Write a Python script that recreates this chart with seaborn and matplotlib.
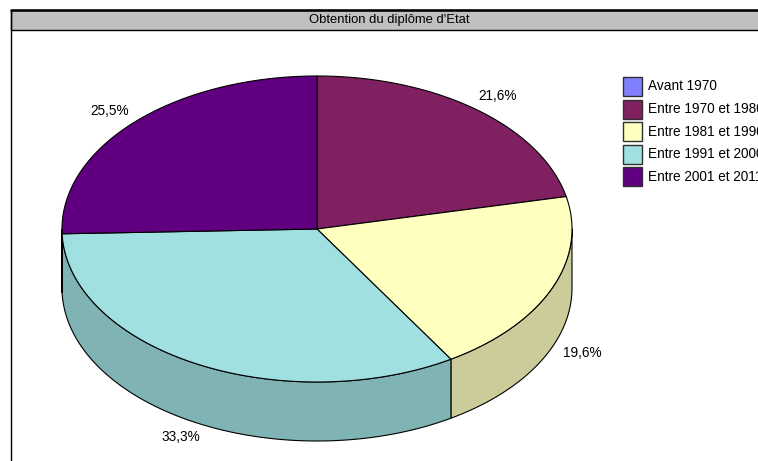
import numpy as np
import matplotlib
matplotlib.use("Agg")
import matplotlib.pyplot as plt
import seaborn as sns
from matplotlib.patches import Polygon, Rectangle
from matplotlib.colors import to_rgb

# --- data ---
title = "Obtention du diplôme d'Etat"
categories = ["Avant 1970", "Entre 1970 et 1980", "Entre 1981 et 1990",
              "Entre 1991 et 2000", "Entre 2001 et 2011"]
shares = [0.0, 21.6, 19.6, 33.3, 25.5]
colors = ["#8080FF", "#802060", "#FFFFC0", "#A0E0E0", "#600080"]

sns.set_theme(style="white")
plt.rcParams['font.family'] = ['Liberation Sans', 'DejaVu Sans']

W, H = 758, 461
fig = plt.figure(figsize=(W / 100, H / 100), dpi=100)
ax = fig.add_axes([0, 0, 1, 1])
ax.set_xlim(0, W)
ax.set_ylim(H, 0)
ax.axis('off')

# frame + title bar
ax.plot([10.5, 10.5], [10, H + 5], color='black', lw=1.0)
ax.add_patch(Rectangle((10.5, 10), 780, 20, facecolor='#C0C0C0',
                       edgecolor='black', lw=1.0))
ax.plot([10.5, 790], [10, 10], color='black', lw=1.8)
ax.text(389, 20, title, ha='center', va='center', fontsize=9.4, color='black')

# pie geometry
cx, cy, rx, ry, depth = 317, 229, 255, 153, 59


def arc(t1, t2, n=200):
    t = np.radians(np.linspace(t1, t2, n))
    return np.column_stack([cx + rx * np.cos(t), cy - ry * np.sin(t)])


total = sum(shares)
bounds = 90 - 360 * np.concatenate([[0], np.cumsum(shares)]) / total

# side walls (front half only)
for i, c in enumerate(colors):
    a1, a2 = bounds[i], bounds[i + 1]
    lo, hi = max(a2, -180), min(a1, 0)
    if hi <= lo:
        continue
    top = arc(hi, lo)
    bot = top[::-1] + [0, depth]
    side = tuple(np.array(to_rgb(c)) * 0.8)
    ax.add_patch(Polygon(np.vstack([top, bot]), closed=True, facecolor=side,
                         edgecolor='black', lw=0.8, joinstyle='round'))

# top wedges
for i, c in enumerate(colors):
    a1, a2 = bounds[i], bounds[i + 1]
    if a1 - a2 <= 0:
        continue
    pts = np.vstack([[cx, cy], arc(a1, a2)])
    ax.add_patch(Polygon(pts, closed=True, facecolor=c, edgecolor='black',
                         lw=0.8, joinstyle='round'))

# percentage labels
for i, v in enumerate(shares):
    if v <= 0:
        continue
    mid = np.radians((bounds[i] + bounds[i + 1]) / 2)
    lx = cx + 1.13 * rx * np.cos(mid)
    ly = cy - 1.13 * ry * np.sin(mid) + 2
    if np.sin(mid) < 0:
        ly += depth - 5
    ax.text(lx, ly, f"{v:.1f}".replace('.', ',') + '%', ha='center',
            va='center', fontsize=9.8, color='black')

# legend (text runs off the right edge, as in the original)
for i, (lab, c) in enumerate(zip(categories, colors)):
    y = 86.5 + i * 22.6
    ax.add_patch(Rectangle((622.5, y - 9.5), 19, 19, facecolor=c,
                           edgecolor='#303030', lw=1.0))
    ax.text(648, y, lab, ha='left', va='center', fontsize=9.8, color='black')

fig.savefig('out.png', dpi=100)
